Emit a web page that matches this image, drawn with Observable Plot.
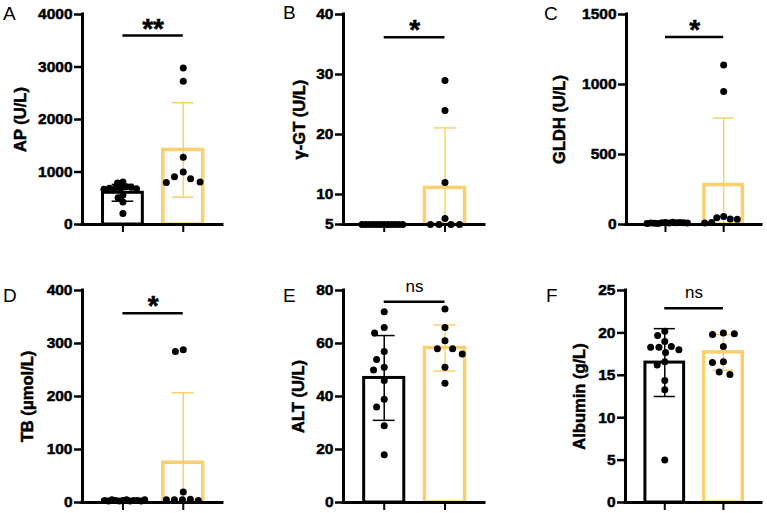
<!DOCTYPE html>
<html>
<head>
<meta charset="utf-8">
<script src="https://cdn.jsdelivr.net/npm/d3@7"></script>
<script src="https://cdn.jsdelivr.net/npm/@observablehq/plot@0.6"></script>
<style>
  html, body { margin: 0; padding: 0; background: #fff; }
  #wrap { position: relative; width: 767px; height: 513px; overflow: hidden; font-family: "Liberation Sans", Arial, sans-serif; }
  #wrap svg { position: absolute; }
</style>
</head>
<body>
<div id="wrap"></div>
<script>
// ---------------- DATA ----------------
const groups = ["Control", "Model"];
const panelLetters = ["A", "B", "C", "D", "E", "F"];
const yLabels = ["AP (U/L)", "γ-GT (U/L)", "GLDH (U/L)", "TB (μmol/L)", "ALT (U/L)", "Albumin (g/L)"];
const yDomains = [[0, 4000], [5, 40], [0, 1500], [0, 400], [0, 80], [0, 25]];
const yTicks = [
  [0, 1000, 2000, 3000, 4000],
  [5, 10, 20, 30, 40],
  [0, 500, 1000, 1500],
  [0, 100, 200, 300, 400],
  [0, 20, 40, 60, 80],
  [0, 5, 10, 15, 20, 25]
];
const sigLabels = ["**", "*", "*", "*", "ns", "ns"];
const sigY = [3600, 36.2, 1340, 357, 75.8, 22.9];

// individual values (control = black, model = gold)
const apControl   = [810, 790, 720, 710, 700, 690, 690, 680, 670, 560, 510, 430, 210];
const apModel     = [2980, 2730, 1280, 1000, 910, 870, 810, 800];
const ggtControl  = [5, 5, 5, 5, 5, 5, 5, 5, 5, 5, 5, 5];
const ggtModel    = [29, 24, 12, 6, 5, 5, 5, 5];
const gldhControl = [14, 12, 10, 16, 8, 12, 9, 15, 11, 13, 7, 10];
const gldhModel   = [1140, 950, 57, 48, 40, 38, 14, 10];
const tbControl   = [4, 3, 5, 4, 3, 4, 5, 3, 4, 4, 3, 5];
const tbModel     = [288, 285, 20, 5, 6, 5, 4, 5];
const altControl  = [72, 66, 64, 57, 54, 51, 50, 46, 39, 36, 29, 18];
const altModel    = [73, 66, 61, 58, 58, 56, 51, 45];
const albControl  = [20.2, 19.7, 19.0, 18.3, 18.4, 18.3, 18.0, 17.7, 16.6, 16.2, 14.4, 13.3, 5.0];
const albModel    = [20.0, 19.8, 19.9, 18.4, 16.6, 16.5, 15.4, 15.1];

// bar heights (mean) and error bars (SD)
const groupMeans = [[604, 1420], [5, 11.1], [12, 282], [4, 75], [47, 58.3], [16.5, 17.7]];
const groupSDs   = [[160, 900], [0, 10], [4, 478], [1, 132], [16, 8.7], [4, 2.1]];

const panelValues = [
  [apControl, apModel], [ggtControl, ggtModel], [gldhControl, gldhModel],
  [tbControl, tbModel], [altControl, altModel], [albControl, albModel]
];

// ---------------- LAYOUT / STYLE ----------------
const GOLD = "#FAD06E";
const groupColors = ["#000", GOLD];
const BW = 0.66, CAP = 0.18;
const xDom = [0.33, 2.65];
const layout = [
  {x0: 0,   y0: 0,   axis: 82,  top: 14,  bottom: 224, right: 222, labelDx: -62},
  {x0: 256, y0: 0,   axis: 343, top: 14,  bottom: 224, right: 484, labelDx: -44},
  {x0: 511, y0: 0,   axis: 626, top: 14,  bottom: 224, right: 761, labelDx: -67},
  {x0: 0,   y0: 256, axis: 82,  top: 290, bottom: 502, right: 222, labelDx: -55},
  {x0: 256, y0: 256, axis: 343, top: 290, bottom: 502, right: 484, labelDx: -45},
  {x0: 511, y0: 256, axis: 625, top: 290, bottom: 502, right: 761, labelDx: -46}
];
const dodgePad = [[-1.5, 3], [-3.3, 1.5], [-3.3, 0], [-3.3, 1], [4, 4], [1.3, 4]];
const letterPos = [[3, 20], [283, 19], [544, 20], [3, 302], [283, 302], [546, 302]];

const wrap = document.getElementById("wrap");

function drawPanel(i) {
  const L = layout[i];
  const mr = 4, mb = 20;
  const ml = L.axis - L.x0, mt = L.top - L.y0;
  const width = L.right + mr - L.x0, height = L.bottom + mb - L.y0;
  const yDom = yDomains[i];
  const xScale = Plot.scale({x: {domain: xDom, range: [ml, width - mr]}});
  const mid = (ml + width - mr) / 2;
  const stats = groups.map((name, j) => ({
    name, pos: j + 1, mean: groupMeans[i][j], sd: groupSDs[i][j],
    color: groupColors[j], values: panelValues[i][j]
  }));
  const marks = [];
  // bars
  stats.forEach((s, j) => {
    marks.push(Plot.rectY([s], {
      x1: d => d.pos - BW / 2, x2: d => d.pos + BW / 2, y1: yDom[0], y2: "mean",
      fill: "none", stroke: s.color, strokeWidth: j ? 3.5 : 3
    }));
  });
  // error bars
  stats.forEach((s) => {
    if (s.sd <= 0) return;
    const lo = Math.max(yDom[0], s.mean - s.sd), hi = s.mean + s.sd;
    marks.push(Plot.ruleX([s], {x: "pos", y1: () => lo, y2: () => hi, stroke: s.color, strokeWidth: 1.5}));
    const caps = [hi];
    if (s.mean - s.sd > yDom[0]) caps.push(s.mean - s.sd);
    marks.push(Plot.ruleY(caps, {y: d => d, x1: s.pos - CAP, x2: s.pos + CAP, stroke: s.color, strokeWidth: 1.5}));
  });
  // axis lines
  marks.push(Plot.ruleX([xDom[0]], {strokeWidth: 3, strokeLinecap: "square"}));
  marks.push(Plot.ruleY([yDom[0]], {strokeWidth: 3, strokeLinecap: "square"}));
  // points
  stats.forEach((s, j) => {
    marks.push(Plot.dot(s.values, Plot.dodgeX(
      {anchor: "middle", padding: dodgePad[i][j]},
      {y: d => d, r: 3.5, fill: "#000", stroke: "none", dx: xScale.apply(s.pos) - mid}
    )));
  });
  // axes
  marks.push(Plot.axisY({ticks: yTicks[i], tickSize: 8, tickPadding: 2, strokeWidth: 2.5,
    fontSize: 15.5, fontWeight: "bold", label: null, tickFormat: d => String(d)}));
  marks.push(Plot.axisX({ticks: stats.map(s => s.pos), tickSize: 8, strokeWidth: 2,
    tickFormat: () => "", label: null}));
  // y label
  marks.push(Plot.text([yLabels[i]], {frameAnchor: "left", rotate: -90, dx: L.labelDx,
    fontSize: 16.5, fontWeight: "bold", textAnchor: "middle", lineAnchor: "middle"}));
  // significance
  const gA = stats[0].pos, gB = stats[1].pos;
  const isNs = sigLabels[i] === "ns";
  marks.push(Plot.ruleY([sigY[i]], {x1: gA, x2: gB, strokeWidth: 2.5}));
  marks.push(Plot.text([sigLabels[i]], {x: (gA + gB) / 2, y: sigY[i], lineAnchor: "bottom",
    dy: isNs ? -10 : 2, fontSize: isNs ? 17 : 28, fontWeight: isNs ? "normal" : "bold"}));

  const svg = Plot.plot({
    width, height,
    marginLeft: ml, marginRight: mr, marginTop: mt, marginBottom: mb,
    x: {domain: xDom},
    y: {domain: yDom},
    style: {fontFamily: "'Liberation Sans', Arial, sans-serif", background: "transparent", overflow: "visible", color: "#000"},
    marks
  });
  svg.style.left = L.x0 + "px";
  svg.style.top = L.y0 + "px";
  // heavier, Prism-like bold text (everything except "ns")
  d3.select(svg).selectAll("text")
    .filter(function () { return this.textContent.trim() !== "" && this.textContent !== "ns"; })
    .style("font-weight", "700")
    .style("stroke", "#000")
    .style("stroke-width", "0.5px");
  wrap.appendChild(svg);
}

for (let i = 0; i < 6; i++) drawPanel(i);

// panel letters
const overlay = d3.select(wrap).append("svg")
  .attr("width", 767).attr("height", 513)
  .style("left", "0px").style("top", "0px").style("pointer-events", "none");
overlay.selectAll("text").data(panelLetters).join("text")
  .attr("x", (d, i) => letterPos[i][0])
  .attr("y", (d, i) => letterPos[i][1])
  .attr("font-family", "'Liberation Sans', Arial, sans-serif")
  .attr("font-size", 19)
  .attr("fill", "#000")
  .text(d => d);
</script>
</body>
</html>
